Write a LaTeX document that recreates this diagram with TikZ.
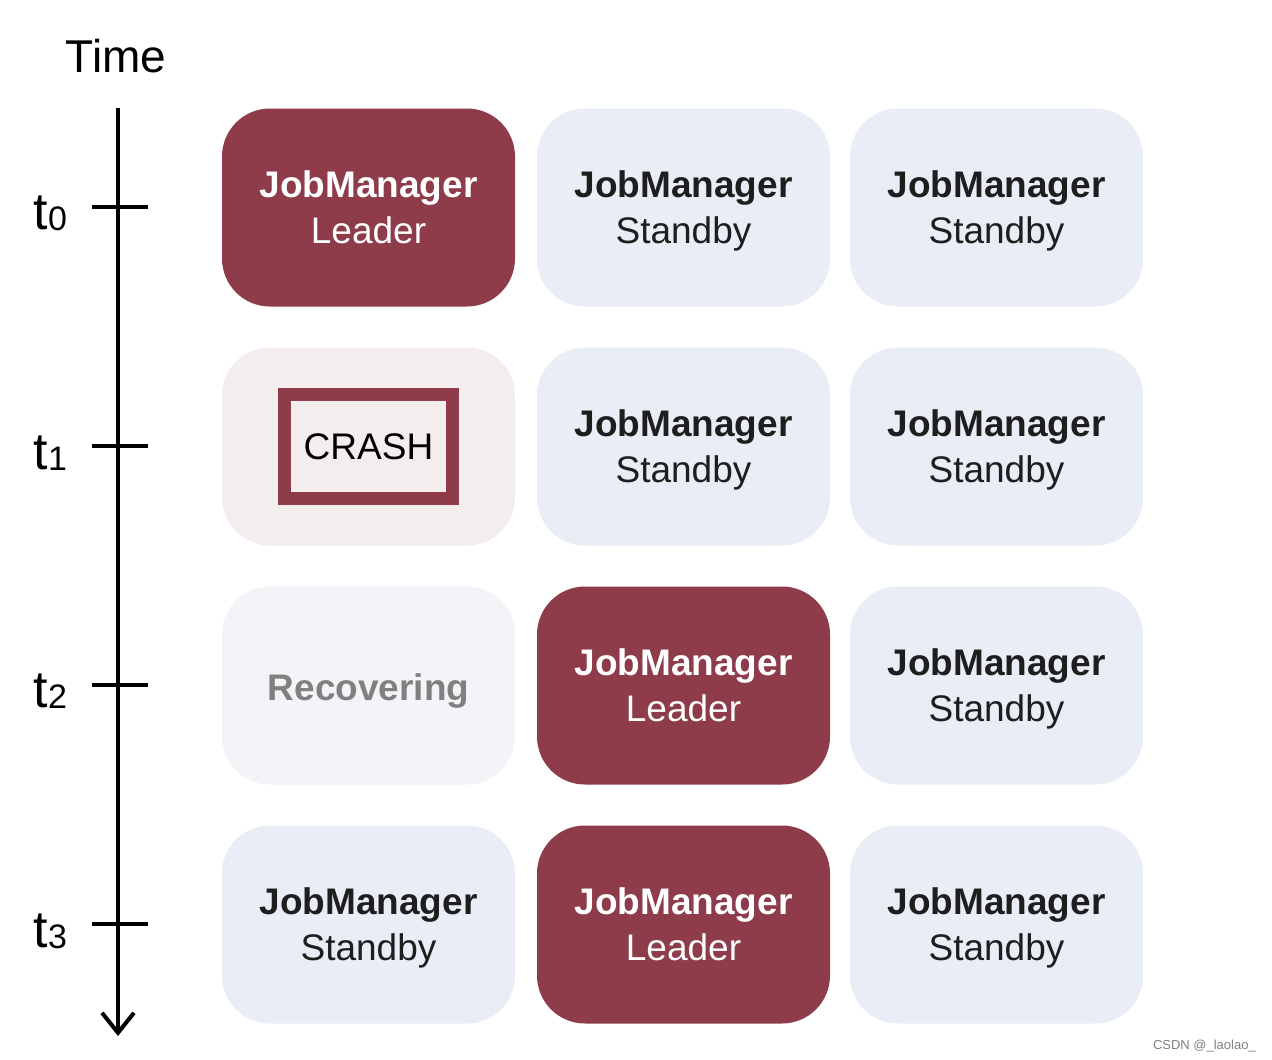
\documentclass[tikz,border=0pt]{standalone}
\usepackage{fontspec}
\setmainfont{Liberation Sans}
\usetikzlibrary{arrows.meta}
\definecolor{leader}{HTML}{8E3B4A}
\definecolor{standby}{HTML}{E9EDF5}
\definecolor{crashbg}{HTML}{F3EDEE}
\definecolor{recbg}{HTML}{F2F4F8}
\definecolor{rectext}{HTML}{808080}
\definecolor{darktext}{HTML}{1E1E1E}
\newcommand{\jmtop}{\rule{0pt}{33bp}\textbf{JobManager}}
\newcommand{\jmbot}[1]{\vphantom{y}#1}
\begin{document}
\begin{tikzpicture}[x=1bp,y=-1bp,
  jmbox/.style={rounded corners=48bp, minimum width=293bp, minimum height=198bp, inner sep=0pt, align=center,
    font=\fontsize{37bp}{46bp}\selectfont},
  leaderbox/.style={jmbox, fill=leader, text=white},
  standbybox/.style={jmbox, fill=standby, text=darktext},
  crashbox/.style={jmbox, fill=crashbg},
  recbox/.style={jmbox, fill=recbg, text=rectext},
  axisline/.style={line width=4bp, draw=black},
  tlabel/.style={anchor=base west, inner sep=0pt, font=\fontsize{52bp}{52bp}\selectfont},
  tsub/.style={anchor=base west, inner sep=0pt, font=\fontsize{34bp}{34bp}\selectfont}
]
\useasboundingbox (0,0) rectangle (1272,1060);
\fill[white] (0,0) rectangle (1272,1060);

% time axis
\node[anchor=base, inner sep=0pt, font=\fontsize{46bp}{46bp}\selectfont] (time) at (116,72) {Time};
\coordinate (axtop) at (118,108);
\coordinate (axend) at (118,1036);
\draw[axisline, -{Straight Barb[length=20bp,width=32bp]}] (axtop) -- (axend);
\foreach \y/\i in {207/0,446/1,685/2,924/3}{
  \coordinate (tl\i) at (92,\y);
  \coordinate (tr\i) at (148,\y);
  \draw[axisline] (tl\i) -- (tr\i);
}
\foreach \y/\i in {229/0,469/1,707/2,947/3}{
  \node[tlabel] (lab\i) at (33,\y) {t};
  \node[tsub] (sub\i) at (48,\y+1) {\i};
}

% row t0
\node[leaderbox] (r0c1) at (368.5,207.5) {\jmtop\\\jmbot{Leader}};
\node[standbybox] (r0c2) at (683.5,207.5) {\jmtop\\\jmbot{Standby}};
\node[standbybox] (r0c3) at (996.5,207.5) {\jmtop\\\jmbot{Standby}};
% row t1
\node[crashbox] (r1c1) at (368.5,446.5) {};
\node[draw=leader, line width=13bp, fill=crashbg, minimum width=168bp, minimum height=104bp, inner sep=0pt,
  font=\fontsize{37bp}{37bp}\selectfont] (crash) at (368.5,446.5) {CRASH};
\node[standbybox] (r1c2) at (683.5,446.5) {\jmtop\\\jmbot{Standby}};
\node[standbybox] (r1c3) at (996.5,446.5) {\jmtop\\\jmbot{Standby}};
% row t2
\node[recbox] (r2c1) at (368.5,685.5) {\rule{0pt}{37bp}\textbf{Recovering}};
\node[leaderbox] (r2c2) at (683.5,685.5) {\jmtop\\\jmbot{Leader}};
\node[standbybox] (r2c3) at (996.5,685.5) {\jmtop\\\jmbot{Standby}};
% row t3
\node[standbybox] (r3c1) at (368.5,924.5) {\jmtop\\\jmbot{Standby}};
\node[leaderbox] (r3c2) at (683.5,924.5) {\jmtop\\\jmbot{Leader}};
\node[standbybox] (r3c3) at (996.5,924.5) {\jmtop\\\jmbot{Standby}};

% watermark
\node[anchor=base east, inner sep=0pt, text=gray, font=\fontsize{13bp}{13bp}\selectfont] (wm) at (1256,1049) {CSDN @\_laolao\_};
\end{tikzpicture}
\end{document}
